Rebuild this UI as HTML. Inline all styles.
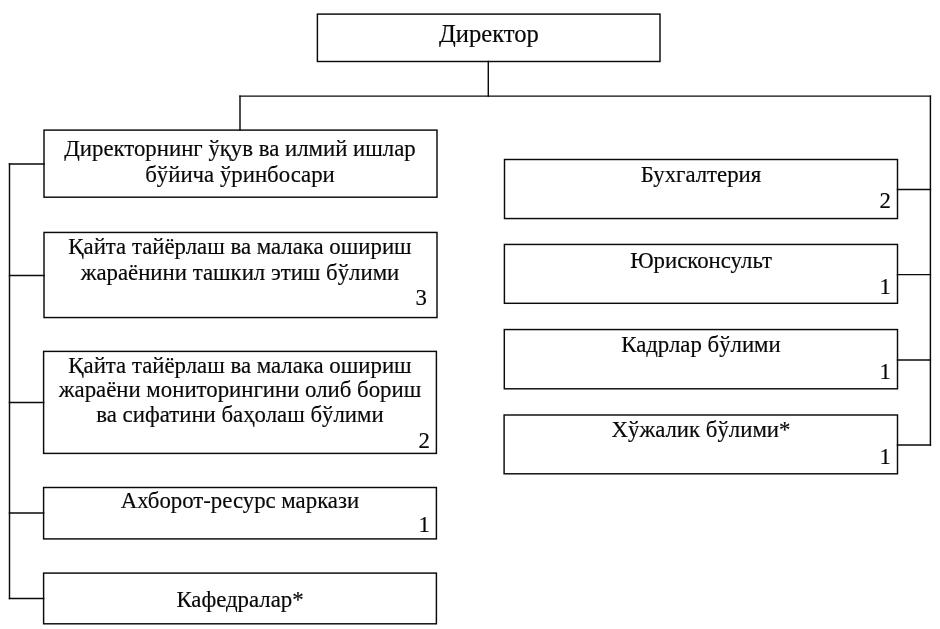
<!DOCTYPE html>
<html><head><meta charset="utf-8"><style>
html,body{margin:0;padding:0;background:#fff;}
body{width:940px;height:629px;position:relative;overflow:hidden;}
svg{position:absolute;left:0;top:0;}
svg rect, svg line{fill:none;stroke:#0a0a0a;stroke-width:1.45;stroke-linecap:square;}
.t{position:absolute;font-family:"Liberation Serif",serif;line-height:1;white-space:nowrap;color:#080808;will-change:transform;-webkit-text-stroke:0.18px #080808;}
</style></head><body>
<svg width="940" height="629" viewBox="0 0 940 629">
<rect x="317.4" y="14.1" width="342.60" height="47.40"/>
<line x1="488.3" y1="61.5" x2="488.3" y2="96.1"/>
<line x1="240.0" y1="96.1" x2="930.4" y2="96.1"/>
<line x1="240.0" y1="96.1" x2="240.0" y2="130.1"/>
<rect x="44.0" y="130.1" width="393.00" height="67.10"/>
<line x1="9.5" y1="164.0" x2="44.0" y2="164.0"/>
<rect x="44.0" y="232.45" width="393.00" height="85.10"/>
<line x1="9.5" y1="275.4" x2="44.0" y2="275.4"/>
<rect x="43.6" y="351.4" width="392.80" height="102.00"/>
<line x1="9.5" y1="402.45" x2="43.6" y2="402.45"/>
<rect x="43.6" y="487.5" width="392.80" height="51.40"/>
<line x1="9.5" y1="513.0" x2="43.6" y2="513.0"/>
<rect x="43.6" y="573.1" width="392.80" height="50.70"/>
<line x1="9.5" y1="598.4" x2="43.6" y2="598.4"/>
<line x1="9.5" y1="164.0" x2="9.5" y2="598.4"/>
<rect x="504.5" y="159.5" width="393.00" height="59.05"/>
<line x1="897.5" y1="189.5" x2="930.4" y2="189.5"/>
<rect x="504.4" y="244.45" width="393.10" height="58.85"/>
<line x1="897.5" y1="274.6" x2="930.4" y2="274.6"/>
<rect x="504.3" y="329.55" width="393.20" height="59.25"/>
<line x1="897.5" y1="360.0" x2="930.4" y2="360.0"/>
<rect x="504.1" y="415.0" width="393.40" height="58.80"/>
<line x1="897.5" y1="445.0" x2="930.4" y2="445.0"/>
<line x1="930.4" y1="96.1" x2="930.4" y2="445.0"/>
</svg>
<div class="t" style="left:188.50px;width:600px;top:21.80px;font-size:24.6px;text-align:center">Директор</div>
<div class="t" style="left:-59.55px;width:600px;top:138.00px;font-size:22.8px;text-align:center">Директорнинг ўқув ва илмий ишлар</div>
<div class="t" style="left:-59.55px;width:600px;top:163.71px;font-size:22.8px;text-align:center">бўйича ўринбосари</div>
<div class="t" style="left:-59.55px;width:600px;top:235.60px;font-size:22.8px;text-align:center">Қайта тайёрлаш ва малака ошириш</div>
<div class="t" style="left:-59.55px;width:600px;top:262.10px;font-size:22.8px;text-align:center">жараёнини ташкил этиш бўлими</div>
<div class="t" style="left:-173.00px;width:600px;top:286.80px;font-size:22.8px;text-align:right">3</div>
<div class="t" style="left:-59.55px;width:600px;top:354.50px;font-size:22.8px;text-align:center">Қайта тайёрлаш ва малака ошириш</div>
<div class="t" style="left:-59.55px;width:600px;top:379.10px;font-size:22.8px;text-align:center">жараёни мониторингини олиб бориш</div>
<div class="t" style="left:-59.55px;width:600px;top:404.10px;font-size:22.8px;text-align:center">ва сифатини баҳолаш бўлими</div>
<div class="t" style="left:-170.00px;width:600px;top:430.00px;font-size:22.8px;text-align:right">2</div>
<div class="t" style="left:-59.55px;width:600px;top:489.90px;font-size:22.8px;text-align:center">Ахборот-ресурс маркази</div>
<div class="t" style="left:-169.60px;width:600px;top:514.30px;font-size:22.8px;text-align:right">1</div>
<div class="t" style="left:-59.55px;width:600px;top:589.20px;font-size:22.8px;text-align:center">Кафедралар*</div>
<div class="t" style="left:400.95px;width:600px;top:164.00px;font-size:22.8px;text-align:center">Бухгалтерия</div>
<div class="t" style="left:291.30px;width:600px;top:189.91px;font-size:22.8px;text-align:right">2</div>
<div class="t" style="left:400.95px;width:600px;top:249.91px;font-size:22.8px;text-align:center">Юрисконсульт</div>
<div class="t" style="left:291.30px;width:600px;top:275.50px;font-size:22.8px;text-align:right">1</div>
<div class="t" style="left:400.95px;width:600px;top:334.40px;font-size:22.8px;text-align:center">Кадрлар бўлими</div>
<div class="t" style="left:291.30px;width:600px;top:360.50px;font-size:22.8px;text-align:right">1</div>
<div class="t" style="left:400.95px;width:600px;top:419.40px;font-size:22.8px;text-align:center">Хўжалик бўлими*</div>
<div class="t" style="left:291.30px;width:600px;top:445.50px;font-size:22.8px;text-align:right">1</div>
</body></html>
